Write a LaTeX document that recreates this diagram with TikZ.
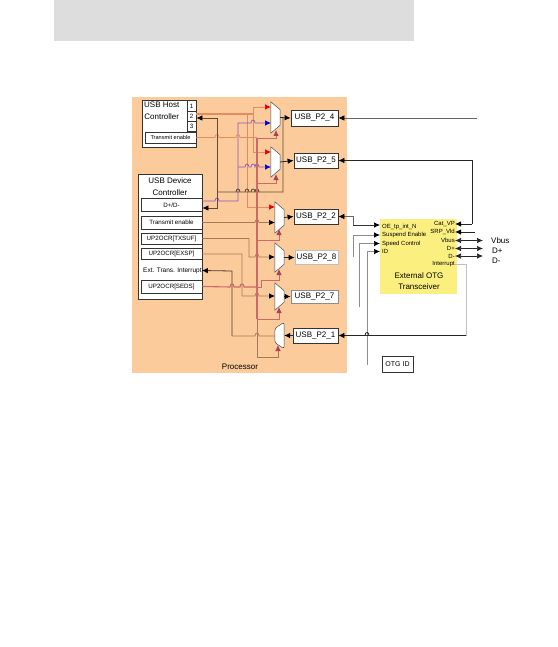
\documentclass[tikz,border=0pt]{standalone}
\usepackage{fontspec}
\setmainfont{Liberation Sans}
\usepackage{xcolor}
\usetikzlibrary{shapes,positioning,calc,arrows.meta}

\definecolor{peach}{HTML}{FBCB9B}
\definecolor{barGrey}{HTML}{DDDDDD}
\definecolor{xcvrYellow}{HTML}{FBF07F}
\definecolor{salmonWire}{HTML}{E58A63}
\definecolor{selWire}{HTML}{CC6A6A}
\definecolor{tanWire}{HTML}{A57A55}
\definecolor{purpleWire}{HTML}{8A55C0}
\definecolor{selTip}{HTML}{A8405A}

% wire hop over a crossing line: x, y
\newcommand{\hop}[2]{-- ({#1-2},#2) .. controls ({#1-2},{#2-4}) and ({#1+2},{#2-4}) .. ({#1+2},#2)}
% mux: name, x, y, height
\newcommand{\muxR}[4]{
  \node[muxbox,minimum height=#4pt] (#1) at (#2,#3) {};
  \draw[muxline] (#1.north west) -- ($(#1.north east)+(0,-8pt)$) -- ($(#1.south east)+(0,8pt)$) -- (#1.south west) -- cycle;
}
\newcommand{\muxL}[4]{
  \node[muxbox,minimum height=#4pt] (#1) at (#2,#3) {};
  \draw[muxline,rounded corners=2.5pt] (#1.north east) -- ($(#1.north west)+(0,-6pt)$) -- ($(#1.south west)+(0,6pt)$) -- (#1.south east) -- cycle;
}

\begin{document}
\begin{tikzpicture}[
    x=1pt,
    y=-1pt,
    box/.style={
        rectangle,
        draw=black!80,
        fill=white,
        line width=0.8pt,
        inner sep=0pt,
        align=center,
        font=\fontsize{6.2}{8}\selectfont
      },
    usbbox/.style={box,font=\fontsize{8}{9}\selectfont},
    txt/.style={inner sep=0pt,align=center,font=\fontsize{8}{11.5}\selectfont},
    pinlabel/.style={inner sep=0pt,font=\fontsize{6}{7}\selectfont},
    muxbox/.style={rectangle,inner sep=0pt,minimum width=9pt},
    muxline/.style={draw=black!70,fill=white,line width=0.5pt},
    tip/.style={-{Latex[length=6pt,width=5.5pt,color=#1]}},
    wire/.style={tanWire,line width=0.7pt},
    dark/.style={black!85,line width=0.8pt,tip=black},
    thinline/.style={black!45,line width=0.7pt},
    redwire/.style={salmonWire,line width=0.7pt,tip=red!90!black},
    bluewire/.style={purpleWire,line width=0.7pt,tip=blue!85!black},
    selwire/.style={selWire,line width=0.8pt,tip=selTip},
    both/.style={black!85,line width=0.7pt,{Latex[length=6pt,width=5.5pt]}-{Latex[length=6pt,width=5.5pt]}}
    ]
    \useasboundingbox (0,0) rectangle (557,647);

    \fill[barGrey] (54,0) rectangle (414,41);
    \fill[peach] (132,97) rectangle (347,373);
    \fill[xcvrYellow] (380,219) rectangle (457,294);

    % host controller
    \node[box,minimum width=54pt,minimum height=47pt] (host) at (169,123.5) {};
    \node[txt,anchor=north west] (hostname) at (144,102) {USB Host\\Controller};
    \node[box,minimum width=9pt,minimum height=11pt] (hostA) at (191.5,106) {1};
    \node[box,minimum width=9pt,minimum height=10pt] (hostB) at (191.5,116.5) {2};
    \node[box,minimum width=9pt,minimum height=10pt] (hostC) at (191.5,126.5) {3};
    \node[box,font=\fontsize{5.6}{7}\selectfont,minimum width=51pt,minimum height=11pt] (hostTx) at (170.5,137.5) {Transmit enable};

    % device controller
    \node[box,minimum width=64pt,minimum height=125pt] (dev) at (170,236.5) {};
    \node[txt] (devname) at (170,186.5) {USB Device\\Controller};
    \node[box,minimum width=61pt,minimum height=13pt] (devDD) at (171.5,205) {D+/D-};
    \node[box,minimum width=61pt,minimum height=13pt] (devTx) at (171.5,222.5) {Transmit enable};
    \node[box,minimum width=61pt,minimum height=11pt] (devSuf) at (171.5,238.5) {UP2OCR[TXSUF]};
    \node[box,minimum width=61pt,minimum height=11pt] (devExs) at (171.5,254) {UP2OCR[EXSP]};
    \node[txt,font=\fontsize{6.5}{8}\selectfont,anchor=west] (devInt) at (143,270.5) {Ext. Trans. Interrupt};
    \node[box,minimum width=61pt,minimum height=13pt] (devSed) at (171.5,286.5) {UP2OCR[SEDS]};

    % ports
    \node[usbbox,minimum width=47pt,minimum height=16pt] (portA) at (314.5,118) {USB\_P2\_4};
    \node[usbbox,minimum width=44pt,minimum height=15pt] (portB) at (316,160.5) {USB\_P2\_5};
    \node[usbbox,minimum width=44pt,minimum height=15pt] (portC) at (316,216.5) {USB\_P2\_2};
    \node[usbbox,draw=black!25,minimum width=43pt,minimum height=14pt] (portD) at (316.5,257.5) {USB\_P2\_8};
    \node[usbbox,draw=black!45,minimum width=47pt,minimum height=13pt] (portE) at (314.5,296.5) {USB\_P2\_7};
    \node[usbbox,minimum width=45pt,minimum height=15pt] (portF) at (315.5,335.5) {USB\_P2\_1};

    \node[txt] (proc) at (240,366.5) {Processor};
    \node[box,font=\fontsize{7}{8}\selectfont,minimum width=31pt,minimum height=16pt] (otg) at (397.5,364) {OTG ID};

    % transceiver
    \node[txt,font=\fontsize{8}{11}\selectfont] (xcvr) at (419,281) {External OTG\\Transceiver};
    \node[pinlabel,anchor=west] (oe) at (382,227) {OE\_tp\_int\_N};
    \node[pinlabel,anchor=west] (susp) at (382,235) {Suspend Enable};
    \node[pinlabel,anchor=west] (speed) at (382,243.5) {Speed Control};
    \node[pinlabel,anchor=west] (xid) at (382,251.5) {ID};
    \node[pinlabel,anchor=east] (catvp) at (455,224) {Cat\_VP};
    \node[pinlabel,anchor=east] (srp) at (455,232) {SRP\_Vld};
    \node[pinlabel,anchor=east] (xvbus) at (455,240.5) {Vbus};
    \node[pinlabel,anchor=east] (xdp) at (455,248.5) {D+};
    \node[pinlabel,anchor=east] (xdm) at (455,256) {D-};
    \node[pinlabel,anchor=east] (xint) at (455,264) {Interrupt};

    \node[txt,anchor=west] (vbus) at (491,240.5) {Vbus};
    \node[txt,anchor=west] (dp) at (492,250.5) {D+};
    \node[txt,anchor=west] (dm) at (492,261) {D-};

    \coordinate (freeA) at (477,118);
    \coordinate (freeB) at (475,232);
    \coordinate (freeC) at (353,257);
    \coordinate (freeD) at (359,307);
    \coordinate (freeE) at (367,365);
    \coordinate (vbusEnd) at (483,240.5);
    \coordinate (dpEnd) at (483,248.5);
    \coordinate (dmEnd) at (483,256);

    % host side data
    \draw[salmonWire,line width=1.2pt] (hostB.east |- 0,114) -- (253,114);
    \draw[redwire] (253,114) -- (253,107) -- (271,107);
    \draw[redwire] (253,114) -- (253,152) -- (271,152);
    \draw[redwire] (247,114) -- (247,207) -- (275,207);
    \draw[bluewire] (devDD.east |- 0,201) \hop{217}{201} -- (238,201) -- (238,123) \hop{253}{123} -- (271,123);
    \draw[bluewire] (238,167) \hop{247}{167} \hop{253}{167} \hop{257}{167} -- (271,167);
    \draw[wire,salmonWire] (hostTx.east) \hop{217}{137.5} \hop{238}{137.5} -- (257,137.5);

    % return path to the controllers
    \draw[tanWire!60!black,line width=0.8pt] (283,118) -- (283,192) \hop{257}{192} \hop{253}{192} \hop{247}{192} \hop{238}{192} -- (217,192);
    \draw[dark,tanWire!60!black] (217,118) -- (hostB.east |- 0,118);
    \draw[dark,tanWire!60!black] (217,118) -- (217,208) -- (devDD.east |- 0,208);

    % device side lines
    \draw[wire,tip=black] (devTx.east) \hop{257}{222.5} -- (275,222.5);
    \draw[wire,tip=black] (devSuf.east) -- (249,238.5) -- (249,257) \hop{257}{257} -- (275,257);
    \draw[wire,tip=black] (devExs.east) -- (242,254) -- (242,296) \hop{257}{296} -- (275,296);
    \draw[dark,tanWire!50!black] (232,336) -- (232,271) -- (devInt.east);
    \draw[wire] (232,336) \hop{257}{336} -- (275,336);

    % select lines
    \draw[selWire,line width=1.1pt] (devSed.east) \hop{232}{287} \hop{242}{287} -- (257,287);
    \draw[selWire,line width=1.1pt] (257,138) -- (257,319);
    \draw[selwire] (257,138) -- (276,138) -- (276,130);
    \draw[selwire] (257,183) -- (276,183) -- (276,174);
    \draw[selwire] (257,240) -- (279,240) -- (279,229);
    \draw[selwire] (257,287) -- (261,287) -- (261,280) -- (279,280) -- (279,269);
    \draw[selwire] (257,319) -- (279,319) -- (279,307);
    \draw[tanWire,line width=0.7pt,tip=selTip] (257,319) -- (257,357) -- (278,357) -- (278,345);

    % muxes
    \muxR{muxA}{275.5}{117.5}{31}
    \muxR{muxB}{275.5}{162}{30}
    \muxR{muxC}{279.5}{217.5}{31}
    \muxR{muxD}{279.5}{257.5}{29}
    \muxR{muxE}{279.5}{296.5}{27}
    \muxL{muxF}{279.5}{335.5}{26}

    % mux to port
    \draw[dark] (muxA.east) -- (portA.west);
    \draw[dark] (muxB.east) -- (portB.west);
    \draw[dark] (muxC.east) -- (portC.west);
    \draw[dark] (muxD.east) -- (portD.west);
    \draw[dark] (muxE.east) -- (portE.west);
    \draw[dark] (portF.west) -- (muxF.east);

    % outside the processor
    \draw[thinline,black!60,tip=black] (freeA) -- (portA.east);
    \draw[dark] (472,224) -- (catvp.east);
    \draw[black!85,line width=0.8pt,tip=black] (472,224) -- (472,160.5) -- (portB.east);
    \draw[dark] (freeB) -- (srp.east);
    \draw[black!60,line width=0.7pt,tip=black] (353,225) -- (353,216.5) -- (portC.east);
    \draw[black!80,line width=0.7pt,tip=black] (353,225) -- (380,225);
    \draw[thinline,tip=black] (freeC) -- (353,235) -- (380,235);
    \draw[thinline,tip=black] (freeD) -- (359,243.5) -- (380,243.5);
    \draw[thinline,tip=black] (freeE) -- (367,251.5) -- (380,251.5);
    \draw[thinline,black!25] (xint.east) -- (466,264) -- (466,335.5);
    \draw[dark] (466,335.5) \hop{367}{335.5} -- (portF.east);
    \draw[both] (xvbus.east) -- (vbusEnd);
    \draw[both] (xdp.east) -- (dpEnd);
    \draw[both] (xdm.east) -- (dmEnd);

  \end{tikzpicture}
\end{document}
